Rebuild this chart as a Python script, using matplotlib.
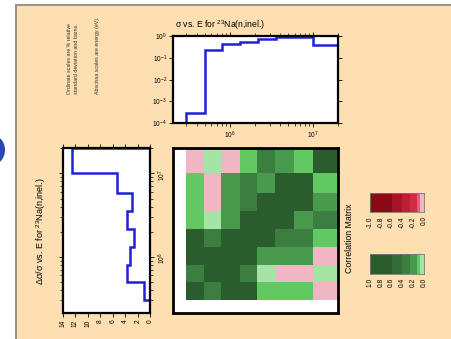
import numpy as np
import matplotlib.pyplot as plt
from matplotlib.patches import Rectangle, Ellipse
from matplotlib.colors import ListedColormap, BoundaryNorm

plt.rcParams['font.family'] = ['Liberation Sans', 'DejaVu Sans']
plt.rcParams['mathtext.fontset'] = 'custom'
plt.rcParams['mathtext.rm'] = 'Liberation Sans'
plt.rcParams['mathtext.it'] = 'Liberation Sans'
plt.rcParams['mathtext.default'] = 'regular'

# group boundaries (eV), lowest first
energy = [2.1e5, 3.0e5, 5.0e5, 8.0e5, 1.32e6, 2.16e6, 3.55e6, 5.9e6, 1.0e7, 2.0e7]
# cross section (barns), groups above threshold
sigma = [2.9e-4, 0.23, 0.43, 0.51, 0.71, 0.88, 0.88, 0.39]
# relative standard deviation (%), all groups
rel_std = [0.0, 1.07, 3.8, 3.3, 2.6, 3.8, 3.0, 5.4, 12.5]
# correlation matrix, rows/cols = groups above threshold, low -> high energy
corr = [
    [1.00, 0.33, 0.82, 0.75, 0.10, 0.09, 0.10, -0.03],
    [0.33, 1.00, 0.86, 0.35, 0.04, -0.03, -0.04, 0.04],
    [0.82, 0.86, 1.00, 0.88, 0.20, 0.18, 0.19, -0.03],
    [0.75, 0.35, 0.88, 1.00, 0.84, 0.34, 0.31, 0.10],
    [0.10, 0.04, 0.20, 0.84, 1.00, 0.83, 0.21, 0.33],
    [0.09, -0.03, 0.18, 0.34, 0.83, 1.00, 0.90, 0.19],
    [0.10, -0.04, 0.19, 0.31, 0.21, 0.90, 1.00, 0.11],
    [-0.03, 0.04, -0.03, 0.10, 0.33, 0.19, 0.11, 1.00],
]

# colour bins
neg_edges = [-1.0, -0.6, -0.4, -0.25, -0.13, -0.065, 0.0]
pos_edges = [0.0, 0.065, 0.13, 0.25, 0.4, 0.6, 1.0]
neg_colors = ['#8a0a16', '#a8142a', '#be1e36', '#d02a44', '#e0607a', '#f0b6c4']
pos_colors = ['#a6e4a6', '#62c862', '#4a9a4e', '#3c7e40', '#346c38', '#2b5c2e']
neg_labels = ['-1.0', '-0.8', '-0.6', '-0.4', '-0.2', '0.0']
pos_labels = ['1.0', '0.8', '0.6', '0.4', '0.2', '0.0']

cmap = ListedColormap(neg_colors + pos_colors)
norm = BoundaryNorm(neg_edges + pos_edges[1:], cmap.N)

W, H = 452, 339
fig = plt.figure(figsize=(W / 100, H / 100), dpi=100)
fig.patch.set_facecolor('white')

def box(x0, y0, x1, y1):
    return [x0 / W, 1 - y1 / H, (x1 - x0) / W, (y1 - y0) / H]

# page background
bg = fig.add_axes([0, 0, 1, 1], zorder=-5)
bg.set_xlim(0, W)
bg.set_ylim(H, 0)
bg.axis('off')
bg.add_patch(Rectangle((16, 5), W - 16, H - 5, fc='#fddfb2', ec='none'))
bg.plot([16, W], [5, 5], color='#9c948c', lw=1.5)
bg.plot([16, 16], [5, H], color='#9c948c', lw=1.5)
bg.add_patch(Ellipse((-6, 150), 22, 28, fc='#2848b8', ec='none'))

blue = '#2020d8'
tick_kw = dict(direction='out', labelsize=4.8, width=0.6, pad=1.5)

# top panel: cross section
ax1 = fig.add_axes(box(173.3, 36, 338.3, 123.3))
ax1.stairs(sigma, energy[1:], baseline=1e-4, color=blue, lw=1.8)
ax1.set_xscale('log')
ax1.set_yscale('log')
ax1.set_xlim(energy[0], energy[-1])
ax1.set_ylim(1e-4, 1)
ax1.set_yticks([1e-4, 1e-3, 1e-2, 1e-1, 1])
ax1.tick_params(which='major', length=3, top=True, right=True, **tick_kw)
ax1.tick_params(which='minor', length=2, top=True, right=True, width=0.5)
ax1.tick_params(axis='y', which='minor', length=0)
ax1.set_title(r'$\sigma$ vs. E for $^{23}$Na(n,inel.)', fontsize=6.2, loc='left',
              pad=6, x=0.01)

# left panel: relative standard deviation
ax2 = fig.add_axes(box(62.7, 148.3, 150.3, 313.3))
ax2.stairs(rel_std, energy, orientation='horizontal', baseline=0,
           color=blue, lw=1.8)
ax2.set_yscale('log')
ax2.set_ylim(energy[0], energy[-1])
ax2.set_xlim(14, 0)
ax2.set_xticks(np.arange(0, 15, 2))
ax2.tick_params(which='major', length=3, top=True, right=True, left=True,
                labelleft=False, labelright=True, **tick_kw)
ax2.tick_params(which='minor', length=2, right=True, left=True, width=0.5)
ax2.tick_params(axis='both', labelrotation=90)
ax2.set_ylabel(r'$\Delta\sigma/\sigma$ vs. E for $^{23}$Na(n,inel.)',
               fontsize=6.5, labelpad=5)

# correlation matrix
ax3 = fig.add_axes(box(172.7, 148.3, 338.3, 313.3))
ax3.pcolormesh(energy[1:], energy[1:], corr, cmap=cmap, norm=norm)
ax3.set_xscale('log')
ax3.set_yscale('log')
ax3.set_xlim(energy[0], energy[-1])
ax3.set_ylim(energy[0], energy[-1])
ax3.tick_params(which='both', length=0, labelbottom=False, labelleft=False)

for ax, lw in [(ax1, 1.6), (ax2, 1.6), (ax3, 2.0)]:
    ax.set_facecolor('white')
    for s in ax.spines.values():
        s.set_linewidth(lw)

fig.text(350 / W, 1 - 238 / H, 'Correlation Matrix', rotation=90,
         fontsize=6.3, ha='center', va='center')

# note block
notes = [(70, 'Ordinate scales are % relative'),
         (77, 'standard deviation and barns.'),
         (98, 'Abscissa scales are energy (eV).')]
for x, t in notes:
    fig.text(x / W, 1 - 94 / H, t, rotation=90, fontsize=3.8,
             ha='left', va='center', rotation_mode='anchor', color='#333333')

# legend bars
def bar(rect, edges, colors, labels, invert):
    ax = fig.add_axes(rect)
    vals = [(a + b) / 2 for a, b in zip(edges[:-1], edges[1:])]
    ax.pcolormesh(edges, [0, 1], [vals], cmap=ListedColormap(colors),
                  norm=BoundaryNorm(edges, len(colors)))
    if invert:
        ax.set_xlim(edges[-1], edges[0])
        pos = np.linspace(1, 0, 6)
    else:
        ax.set_xlim(edges[0], edges[-1])
        pos = np.linspace(-1, 0, 6)
    ax.set_ylim(0, 1)
    ax.set_yticks([])
    ax.set_xticks(pos)
    ax.set_xticklabels(labels)
    ax.tick_params(axis='x', length=0, labelsize=4.8, labelrotation=90, pad=3)
    for s in ax.spines.values():
        s.set_linewidth(0.6)
        s.set_color('#777777')

bar(box(370, 193, 424, 212), neg_edges, neg_colors, neg_labels, False)
bar(box(370, 254, 424, 274), pos_edges, pos_colors, pos_labels, True)

fig.savefig('out.png', dpi=100)
